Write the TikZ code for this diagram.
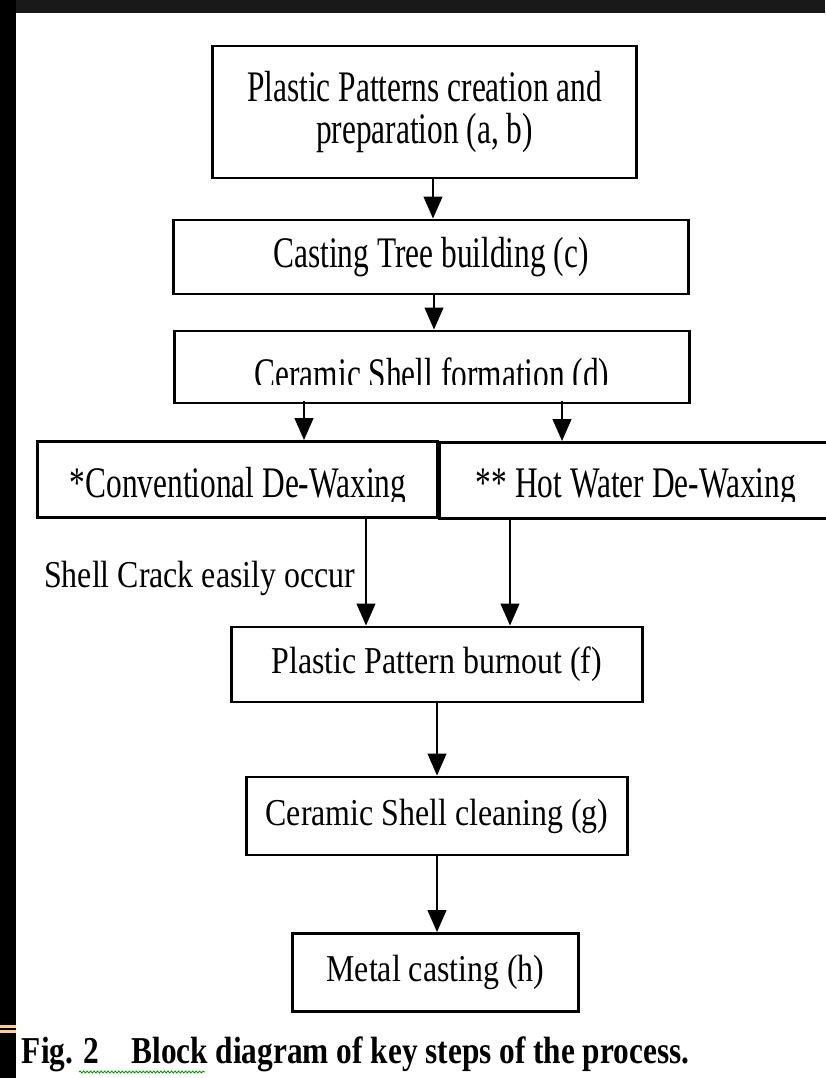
\documentclass[tikz,border=0pt]{standalone}
\usepackage{fontspec}
\setmainfont{Liberation Serif}
\newfontfamily\bigserif[FakeStretch=0.72]{Liberation Serif}
\newfontfamily\smallserif[FakeStretch=0.84]{Liberation Serif}
\newfontfamily\capserif[FakeStretch=0.825]{Liberation Serif}
\usetikzlibrary{arrows.meta,decorations.pathmorphing}

\tikzset{
  box/.style={draw, line width=2.1pt, fill=white, inner sep=0pt, align=center},
  bigtxt/.style={font=\bigserif\fontsize{31}{29.5}\selectfont},
  smalltxt/.style={font=\smallserif\fontsize{27}{27}\selectfont},
  arr/.style={line width=1.4pt, -{Triangle[length=0.55cm,width=0.47cm]}},
}

\begin{document}
\begin{tikzpicture}[x=0.025cm, y=-0.025cm]
\useasboundingbox (0,0) rectangle (825,1078);
% screenshot frame
\fill[black!90] (0,0) rectangle (825,13);
\fill[black] (0,0) rectangle (16,1078);
\fill[orange!40] (0,1025) rectangle (16,1028);
\fill[orange!40] (0,1030) rectangle (16,1033);

% process steps
\node[box, bigtxt, minimum width=10.575cm, minimum height=3.3cm] (p1) at (424.5,112) {Plastic Patterns creation and\\preparation (a, b)};
\node[box, bigtxt, minimum width=12.85cm, minimum height=1.85cm] (p2) at (431,257) {Casting Tree building (c)};
\node[box, minimum width=12.85cm, minimum height=1.8cm] (p3) at (432,367) {};
\node[box, minimum width=9.975cm, minimum height=1.9cm] (p4) at (237.5,479.5) {};
\node[box, minimum width=9.875cm, minimum height=1.9cm] (p5) at (637.5,480.5) {};
\node[box, smalltxt, minimum width=10.25cm, minimum height=1.875cm] (p6) at (437,664.5) {Plastic Pattern burnout (f)};
\node[box, smalltxt, minimum width=9.5cm, minimum height=1.95cm] (p7) at (437,816) {Ceramic Shell cleaning (g)};
\node[box, smalltxt, minimum width=7.125cm, minimum height=1.95cm] (p8) at (435.5,972.5) {Metal casting (h)};

% texts cut off at the bottom
\begin{scope}
\clip (175,331) rectangle (689,384);
\node[bigtxt, anchor=base] (p3txt) at (432,388) {Ceramic Shell formation (d)};
\end{scope}
\begin{scope}
\clip (38,442) rectangle (825,501);
\node[bigtxt, anchor=base] (p4txt) at (238,497) {*Conventional De-Waxing};
\node[bigtxt, anchor=base] (p5txt) at (636,497) {** Hot Water De-Waxing};
\end{scope}

\node[smalltxt, anchor=base east] (crack) at (360,587) {Shell Crack easily occur};

% connectors
\coordinate (a1) at (433,178);
\coordinate (a2) at (434,294);
\coordinate (a3) at (304,401);
\coordinate (a4) at (562,401);
\coordinate (a5) at (366,517);
\coordinate (a6) at (510,518);
\draw[arr] (a1) -- (a1 |- p2.north);
\draw[arr] (a2) -- (a2 |- p3.north);
\draw[arr] (a3) -- (a3 |- p4.north);
\draw[arr] (a4) -- (a4 |- p5.north);
\draw[arr] (a5) -- (a5 |- p6.north);
\draw[arr] (a6) -- (a6 |- p6.north);
\draw[arr] (p6.south -| p7) -- (p7.north);
\draw[arr] (p7.south) -- (p7.south |- p8.north);

% caption
\node[anchor=base west, font=\capserif\bfseries\fontsize{27}{27}\selectfont] (cap) at (17,1063) {Fig. 2\hspace{0.8cm}Block diagram of key steps of the process.};
\draw[green!60!black, line width=0.6pt, decorate, decoration={snake, amplitude=0.7pt, segment length=2.5pt}] (79,1072) -- (205,1072);

\end{tikzpicture}
\end{document}
